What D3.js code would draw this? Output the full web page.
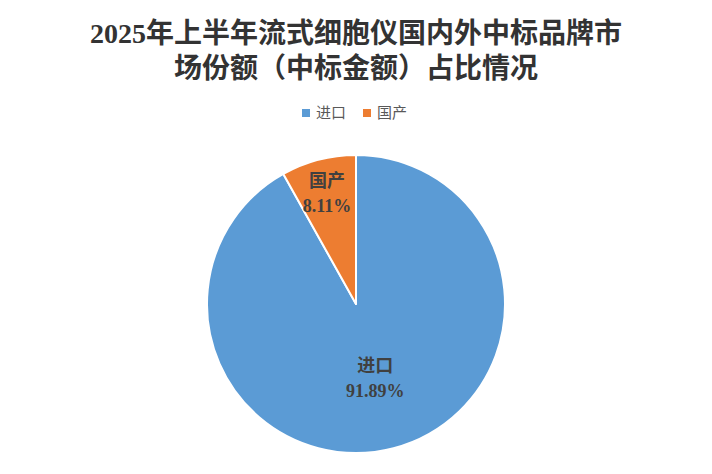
<!DOCTYPE html>
<html>
<head>
    <meta charset="utf-8">
    <script src="https://cdn.jsdelivr.net/npm/d3@7"></script>
</head>

<style>
    body { margin: 0; background: white; }
    .title {
        font-family: "Liberation Serif", "Noto Sans CJK SC", serif;
        font-weight: bold;
        font-size: 28px;
        fill: #333;
    }
    .legend text {
        font-family: "Noto Sans CJK SC", sans-serif;
        font-size: 15px;
        fill: #595959;
    }
    .slice-label {
        font-family: "Liberation Serif", "Noto Sans CJK SC", serif;
        font-weight: bold;
        font-size: 18px;
        fill: #404040;
    }
</style>

<body>
<div id="chart"></div>

<script>

    var titleLines = ['2025年上半年流式细胞仪国内外中标品牌市', '场份额（中标金额）占比情况'];
    var categories = ['进口', '国产'];
    var shares = [91.89, 8.11];
    var colors = ['#5B9BD5', '#ED7D31'];

    var width = 712;
    var height = 474;
    var radius = 149;
    var center = { x: 356, y: 304 };

    var svg = d3.select('#chart').append('svg')
        .attr('width', width)
        .attr('height', height);

    svg.append('rect')
        .attr('width', width)
        .attr('height', height)
        .attr('fill', 'white');

    // title
    svg.selectAll('text.title')
        .data(titleLines)
        .enter()
        .append('text')
        .attr('class', 'title')
        .attr('x', width / 2)
        .attr('y', function(d, i) { return 43 + i * 35; })
        .attr('text-anchor', 'middle')
        .text(function(d) { return d; });

    // legend
    var legendX = [302, 363];
    var legend = svg.append('g').attr('class', 'legend');
    var items = legend.selectAll('g')
        .data(categories)
        .enter()
        .append('g')
        .attr('transform', function(d, i) { return 'translate(' + legendX[i] + ', 113)'; });

    items.append('rect')
        .attr('x', 0)
        .attr('y', -4)
        .attr('width', 8)
        .attr('height', 8)
        .attr('fill', function(d, i) { return colors[i]; });

    items.append('text')
        .attr('x', 14)
        .attr('dy', '0.35em')
        .text(function(d) { return d; });

    // pie
    var pie = d3.pie()
        .sort(null)
        .value(function(d) { return d; });

    var arc = d3.arc()
        .innerRadius(0)
        .outerRadius(radius);

    var arcs = pie(shares);

    var g = svg.append('g')
        .attr('transform', 'translate(' + center.x + ', ' + center.y + ')');

    g.selectAll('path.slice')
        .data(arcs)
        .enter()
        .append('path')
        .attr('class', 'slice')
        .attr('d', arc)
        .attr('fill', function(d, i) { return colors[i]; })
        .attr('stroke', 'white')
        .attr('stroke-width', 2)
        .attr('stroke-linejoin', 'round');

    // small slices get their label further out
    function labelRadius(d) {
        return (d.endAngle - d.startAngle) < 1 ? radius * 0.77 : radius * 0.51;
    }

    var labels = g.selectAll('text.slice-label')
        .data(arcs)
        .enter()
        .append('text')
        .attr('class', 'slice-label')
        .attr('text-anchor', 'middle')
        .attr('transform', function(d) {
            var a = (d.startAngle + d.endAngle) / 2;
            var r = labelRadius(d);
            return 'translate(' + (Math.sin(a) * r) + ', ' + (-Math.cos(a) * r) + ')';
        });

    labels.append('tspan')
        .attr('x', 0)
        .attr('y', -6)
        .text(function(d, i) { return categories[i]; });

    labels.append('tspan')
        .attr('x', 0)
        .attr('y', 19)
        .text(function(d, i) { return shares[i].toFixed(2) + '%'; });

</script>
</body>
</html>
